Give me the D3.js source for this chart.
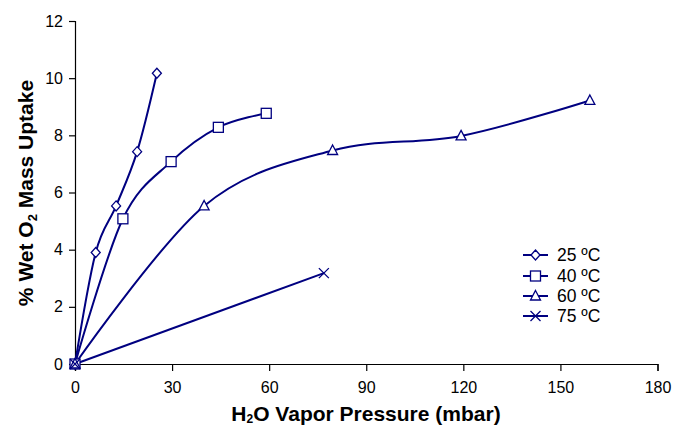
<!DOCTYPE html>
<html><head><meta charset="utf-8">
<script src="https://cdn.jsdelivr.net/npm/d3@7"></script>
<style>body{margin:0;background:#fff}svg{display:block;font-family:"Liberation Sans",Arial,sans-serif}</style>
</head><body><svg id="c" width="674" height="425"></svg>
<script>
const xTicks = [0, 30, 60, 90, 120, 150, 180];
const yTicks = [0, 2, 4, 6, 8, 10, 12];
const seriesNames = ["25 ºC", "40 ºC", "60 ºC", "75 ºC"];
const markers = ["diamond", "square", "triangle", "cross"];
const p25 = [0, 6.4, 12.7, 19.2, 25.3];
const u25 = [0, 3.9, 5.53, 7.43, 10.17];
const p40 = [0, 14.8, 29.7, 44.3, 59.1];
const u40 = [0, 5.08, 7.08, 8.28, 8.77];
const p60 = [0, 39.9, 79.6, 119.3, 159.1];
const u60 = [0, 5.53, 7.47, 7.98, 9.22];
const p75 = [0, 76.9];
const u75 = [0, 3.18];

const svg = d3.select("#c");
const color = "#000080";
const x = d3.scaleLinear().domain([0, 180]).range([75, 657.5]);
const y = d3.scaleLinear().domain([0, 12]).range([364, 21]);

const series = [[p25,u25],[p40,u40],[p60,u60],[p75,u75]].map((s,i)=>({
  name: seriesNames[i], marker: markers[i],
  pts: s[0].map((v,j)=>[v, s[1][j]])
}));

// axes
const xAxis = d3.axisBottom(x).tickValues(xTicks).tickSize(7).tickPadding(10.5).tickFormat(d3.format("d"));
const yAxis = d3.axisLeft(y).tickValues(yTicks).tickSize(6).tickPadding(6).tickFormat(d3.format("d"));
const gx = svg.append("g").attr("transform","translate(0,364)").call(xAxis);
const gy = svg.append("g").attr("transform","translate(75,0)").call(yAxis);
[gx, gy].forEach(g=>{
  g.select(".domain").attr("stroke","#000").attr("stroke-width",1.2);
  g.selectAll(".tick line").attr("stroke","#000").attr("stroke-width",1.2);
  g.selectAll(".tick text").attr("fill","#000").style("font-size","16px").style("font-family","Liberation Sans, Arial, sans-serif");
});

// lines
const line = d3.line().x(d=>x(d[0])).y(d=>y(d[1])).curve(d3.curveCardinal.tension(0));
series.forEach(s=>{
  svg.append("path").attr("d", line(s.pts)).attr("fill","none").attr("stroke",color).attr("stroke-width",2);
});

function drawMarker(g, type, cx, cy) {
  const sw = 1.3;
  if (type === "diamond") {
    g.append("path").attr("d", `M${cx},${cy-5}L${cx+4.5},${cy}L${cx},${cy+5}L${cx-4.5},${cy}Z`)
      .attr("fill","#fff").attr("stroke",color).attr("stroke-width",sw);
  } else if (type === "square") {
    g.append("rect").attr("x",cx-5).attr("y",cy-5).attr("width",10).attr("height",10)
      .attr("fill","#fff").attr("stroke",color).attr("stroke-width",sw);
  } else if (type === "triangle") {
    g.append("path").attr("d", `M${cx},${cy-5.5}L${cx+5},${cy+4}L${cx-5},${cy+4}Z`)
      .attr("fill","#fff").attr("stroke",color).attr("stroke-width",sw);
  } else {
    g.append("path").attr("d", `M${cx-5},${cy-5}L${cx+5},${cy+5}M${cx-5},${cy+5}L${cx+5},${cy-5}`)
      .attr("fill","none").attr("stroke",color).attr("stroke-width",sw);
  }
}
const mg = svg.append("g");
series.forEach(s=>{
  s.pts.forEach(d=>drawMarker(mg, s.marker, x(d[0]), y(d[1])));
});

// legend
const lg = svg.append("g");
const rowY = [255, 276, 296, 316];
series.forEach((s,i)=>{
  lg.append("line").attr("x1",523).attr("x2",548).attr("y1",rowY[i]).attr("y2",rowY[i])
    .attr("stroke",color).attr("stroke-width",2);
  drawMarker(lg, s.marker, 535.5, rowY[i]);
  lg.append("text").attr("x",557).attr("y",rowY[i]+6).attr("font-size","17.5px").attr("fill","#000").text(s.name);
});

// axis titles
const xt = svg.append("text").attr("x",366).attr("y",420.5).attr("text-anchor","middle")
  .attr("font-size","21px").attr("font-weight","bold").attr("fill","#000");
xt.append("tspan").text("H");
xt.append("tspan").attr("font-size","12px").attr("dy",2.5).text("2");
xt.append("tspan").attr("dy",-2.5).text("O Vapor Pressure (mbar)");

const yt = svg.append("text").attr("transform","translate(33,193) rotate(-90)").attr("text-anchor","middle")
  .attr("font-size","21px").attr("font-weight","bold").attr("fill","#000");
yt.append("tspan").text("% Wet O");
yt.append("tspan").attr("font-size","13px").attr("dy",4).text("2");
yt.append("tspan").attr("dy",-4).text(" Mass Uptake");
</script></body></html>
